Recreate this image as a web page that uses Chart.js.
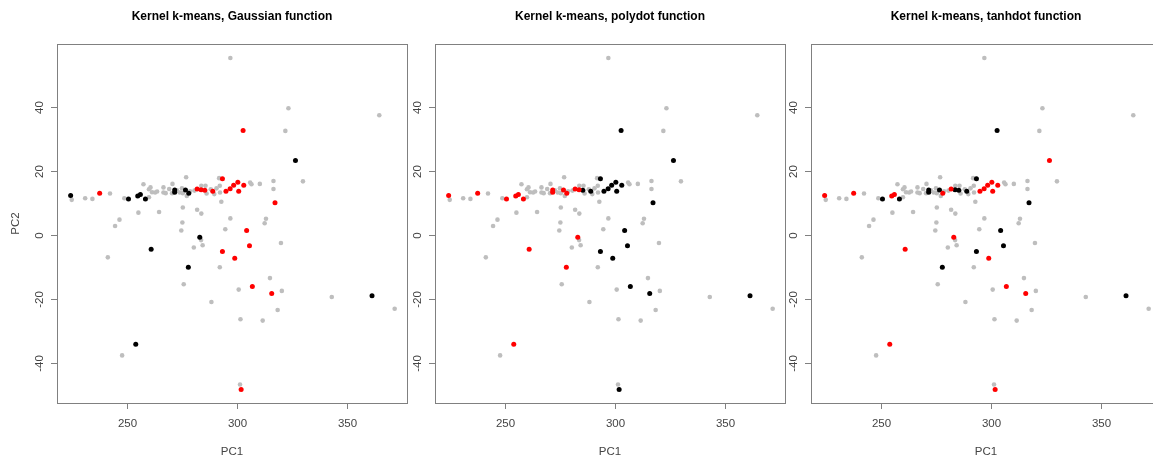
<!DOCTYPE html>
<html>
<head>
<meta charset="utf-8">
<script src="https://cdn.jsdelivr.net/npm/chart.js@4/dist/chart.umd.min.js"></script>
<style>
html, body { margin: 0; padding: 0; background: #fff; overflow: hidden; }
#wrap { position: relative; width: 1153px; height: 459px; overflow: hidden; }
.panel { position: absolute; top: 0; }
</style>
</head>
<body>
<div id="wrap">
  <canvas id="c1" class="panel" width="420" height="459" style="left:0px"></canvas>
  <canvas id="c2" class="panel" width="420" height="459" style="left:378px"></canvas>
  <canvas id="c3" class="panel" width="420" height="459" style="left:754px"></canvas>
</div>
<script>
// principal component scores, one entry per sample
var pc1 = [
    // clustered black in the gaussian panel
    224.2, 250.5, 254.7, 255.9, 258.2, 271.5, 271.5, 276.4, 277.9, 282.9, 260.8, 277.7, 326.4, 361.2, 253.8,
    // clustered red in the gaussian panel
    237.4, 281.7, 283.5, 285.2, 288.8, 293.2, 294.8, 296.7, 298.3, 300.2, 300.6, 302.9, 302.6, 317.1, 304.2,
    293.2, 305.5, 298.8, 306.8, 315.6, 301.7,
    // the rest (gray)
    296.8, 323.2, 364.5, 321.8, 329.8, 316.4, 316.4, 310.2, 305.8, 306.4, 224.7, 230.8, 234.1, 242.1, 248.6,
    257.3, 259.8, 260.5, 259.8, 262.6, 263.5, 266.4, 266.4, 267.4, 270.5, 270.3, 273.8, 274.8, 275.2, 276.7,
    277.0, 278.5, 280.5, 283.6, 285.5, 287.9, 289.5, 292.0, 292.1, 291.7, 255.0, 264.4, 275.2, 281.7, 283.6,
    292.7, 296.8, 294.5, 246.4, 244.4, 275.0, 274.5, 283.5, 284.2, 280.2, 313.0, 312.4, 319.8, 241.1, 292.0,
    275.6, 314.8, 300.6, 320.2, 288.2, 342.9, 371.5, 318.3, 301.4, 311.5, 247.6, 301.2, 261.2, 269.0, 272.5,
    286.0, 290.5
];
var pc2 = [
    12.4, 11.3, 12.2, 12.7, 11.3, 13.4, 14.1, 14.1, 13.1, -0.7, -4.5, -10.1, 23.3, -19.0, -34.2,
    13.1, 14.4, 14.2, 14.0, 13.7, 17.6, 13.7, 14.5, 15.6, 16.5, 13.7, 15.6, 32.7, 10.1, 1.4,
    -5.2, -3.4, -7.3, -16.1, -18.3, -48.4,
    55.4, 39.7, 37.5, 32.6, 16.8, 16.9, 14.4, 16.0, 16.4, 15.9, 11.0, 11.5, 11.3, 13.0, 11.5,
    15.9, 14.3, 14.9, 11.8, 13.3, 13.6, 14.9, 13.3, 13.1, 16.0, 13.1, 13.3, 14.6, 13.1, 18.1,
    12.2, 13.7, 13.9, 15.4, 15.4, 14.3, 12.8, 15.4, 13.3, 17.8, 7.0, 7.2, 8.6, 7.9, 6.7,
    10.4, 5.2, 1.8, 4.8, 2.8, 3.9, 1.4, -1.6, -3.2, -3.9, 5.1, 3.7, -2.5, -7.0, -10.1,
    -15.4, -13.5, -17.1, -17.5, -21.0, -19.4, -23.1, -23.5, -26.4, -26.8, -37.7, -46.8, 13.4, 14.4, 14.0,
    13.0, 14.6
];

// cluster labels: 1 = gray, 2 = black, 3 = red  (gray rows filled below)
var gaussCl = [2,2,2,2,2,2,2,2,2,2,2,2,2,2,2, 3,3,3,3,3,3,3,3,3,3,3,3,3,3,3,3,3,3,3,3,3];
var polyCl  = [3,3,3,3,3,3,3,3,3,3,3,3,2,2,3, 3,3,3,2,2,2,2,2,2,2,2,2,2,2,2,2,2,2,2,2,2];
var tanhCl  = [3,2,3,3,2,2,2,2,3,3,3,2,3,2,3, 3,3,2,2,2,2,3,3,3,3,3,3,2,2,2,2,2,3,3,3,3];
while (gaussCl.length < pc1.length) { gaussCl.push(1); polyCl.push(1); tanhCl.push(1); }

var titles = ['Kernel k-means, Gaussian function', 'Kernel k-means, polydot function', 'Kernel k-means, tanhdot function'];
var xTicks = [250, 300, 350];
var yTicks = [-40, -20, 0, 20, 40];

var clColors = { 1: '#bebebe', 2: '#000000', 3: '#ff0000' };
var FONT = '"Liberation Sans Narrow", "Liberation Sans", Arial, sans-serif';

// R style box, ticks and labels
var rAxes = {
    id: 'rAxes',
    afterDraw: function (chart) {
        var ctx = chart.ctx, a = chart.chartArea, xs = chart.scales.x, ys = chart.scales.y;
        var o = chart.options.plugins.rAxes;
        ctx.save();
        ctx.strokeStyle = '#808080';
        ctx.lineWidth = 1;
        ctx.strokeRect(Math.round(a.left) + 0.5, Math.round(a.top) + 0.5, Math.round(a.right - a.left), Math.round(a.bottom - a.top));
        ctx.fillStyle = '#444';
        ctx.font = '11.5px ' + FONT;
        ctx.textAlign = 'center';
        ctx.textBaseline = 'middle';
        ctx.beginPath();
        xTicks.forEach(function (v) {
            var px = Math.round(xs.getPixelForValue(v)) + 0.5;
            ctx.moveTo(px, a.bottom); ctx.lineTo(px, a.bottom + 6);
            ctx.fillText(String(v), px, a.bottom + 21);
        });
        yTicks.forEach(function (v) {
            var py = Math.round(ys.getPixelForValue(v)) + 0.5;
            ctx.moveTo(a.left - 6, py); ctx.lineTo(a.left, py);
            ctx.save();
            ctx.translate(a.left - 17, py);
            ctx.rotate(-Math.PI / 2);
            ctx.fillText(String(v), 0, 0);
            ctx.restore();
        });
        ctx.stroke();
        var cx = (a.left + a.right) / 2, cy = (a.top + a.bottom) / 2;
        ctx.fillText('PC1', cx, a.bottom + 49);
        if (o.yTitle) {
            ctx.save();
            ctx.translate(a.left - 41, cy);
            ctx.rotate(-Math.PI / 2);
            ctx.fillText(o.yTitle, 0, 0);
            ctx.restore();
        }
        ctx.fillStyle = '#000';
        ctx.font = 'bold 12px ' + FONT;
        ctx.fillText(o.title, cx, 17);
        ctx.restore();
    }
};

function buildDatasets(cl) {
    var order = { 3: 1, 2: 2, 1: 3 };
    return [3, 2, 1].map(function (k) {
        var pts = [];
        for (var i = 0; i < pc1.length; i++) {
            if (cl[i] === k) pts.push({ x: pc1[i], y: pc2[i] });
        }
        return {
            data: pts,
            order: order[k],
            backgroundColor: clColors[k],
            borderColor: clColors[k],
            borderWidth: 0,
            pointRadius: k === 1 ? 2.3 : 2.5,
            pointStyle: 'circle'
        };
    });
}

function makePanel(id, cl, title, yTitle) {
    new Chart(document.getElementById(id), {
        type: 'scatter',
        data: { datasets: buildDatasets(cl) },
        options: {
            responsive: false,
            animation: false,
            events: [],
            layout: { padding: { left: 57, right: 13, top: 44, bottom: 56 } },
            scales: {
                x: { type: 'linear', display: false, min: 218.0, max: 377.1 },
                y: { type: 'linear', display: false, min: -52.6, max: 59.8 }
            },
            plugins: {
                legend: { display: false },
                tooltip: { enabled: false },
                rAxes: { title: title, yTitle: yTitle }
            }
        },
        plugins: [rAxes]
    });
}

makePanel('c1', gaussCl, titles[0], 'PC2');
makePanel('c2', polyCl, titles[1], '');
makePanel('c3', tanhCl, titles[2], '');
</script>
</body>
</html>
